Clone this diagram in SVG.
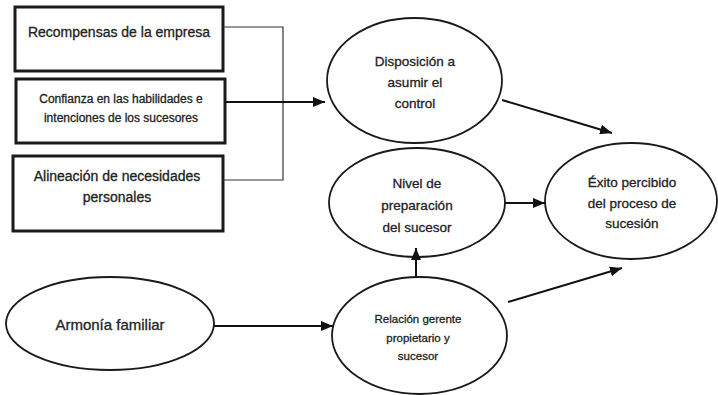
<svg xmlns="http://www.w3.org/2000/svg" width="718" height="395" viewBox="0 0 718 395">
<defs>
<marker id="ah" markerUnits="userSpaceOnUse" markerWidth="12" markerHeight="10" refX="12" refY="5" orient="auto">
<path d="M0,0 L12,5 L0,10 Z" fill="#111"/>
</marker>
</defs>
<style>
.box{fill:#fff;stroke:#1a1a1a;stroke-width:3}
.ell{fill:#fff;stroke:#1a1a1a;stroke-width:1.8}
.t{font-family:"Liberation Sans",Arial,sans-serif;fill:#222;stroke:#222;stroke-width:0.3;text-anchor:middle}
.thin{stroke:#333;stroke-width:1.2;fill:none}
.arr{stroke:#111;stroke-width:2;fill:none;marker-end:url(#ah)}
</style>
<rect width="718" height="395" fill="#fff"/>
<g id="recompensas">
<rect class="box" x="15" y="7" width="208" height="64"/>
<text class="t" x="119" y="37" font-size="14">Recompensas de la empresa</text>
</g>
<g id="confianza">
<rect class="box" x="16" y="79" width="209" height="64"/>
<text class="t" x="121" y="103" font-size="12">Confianza en las habilidades e</text>
<text class="t" x="121" y="122" font-size="12">intenciones de los sucesores</text>
</g>
<g id="alineacion">
<rect class="box" x="13" y="156" width="210" height="75"/>
<text class="t" x="117" y="181" font-size="14">Alineación de necesidades</text>
<text class="t" x="117" y="202" font-size="14">personales</text>
</g>
<g id="disposicion">
<ellipse class="ell" cx="414.5" cy="80.5" rx="87.5" ry="62.5"/>
<text class="t" x="415" y="66" font-size="13.5">Disposición a</text>
<text class="t" x="415" y="87" font-size="13.5">asumir el</text>
<text class="t" x="415" y="108" font-size="13.5">control</text>
</g>
<g id="nivel">
<ellipse class="ell" cx="417" cy="202.5" rx="88" ry="54.5"/>
<text class="t" x="417" y="188" font-size="13.5">Nivel de</text>
<text class="t" x="417" y="210" font-size="13.5">preparación</text>
<text class="t" x="417" y="232" font-size="13.5">del sucesor</text>
</g>
<g id="exito">
<ellipse class="ell" cx="631" cy="201" rx="86" ry="58"/>
<text class="t" x="632" y="187" font-size="13.5">Éxito percibido</text>
<text class="t" x="632" y="208" font-size="13.5">del proceso de</text>
<text class="t" x="632" y="228" font-size="13.5">sucesión</text>
</g>
<g id="armonia">
<ellipse class="ell" cx="110" cy="323.5" rx="104" ry="46.5"/>
<text class="t" x="110" y="330" font-size="15">Armonía familiar</text>
</g>
<g id="relacion">
<ellipse class="ell" cx="419.5" cy="335.5" rx="87.5" ry="58.5"/>
<text class="t" x="418" y="323" font-size="11.5">Relación gerente</text>
<text class="t" x="418" y="342" font-size="11.5">propietario y</text>
<text class="t" x="418" y="360" font-size="11.5">sucesor</text>
</g>
<g id="connectors">
<polyline class="thin" points="223,27 283,27 283,180 223,180"/>
<line class="arr" x1="225" y1="102" x2="325" y2="102"/>
<line class="arr" x1="502" y1="100" x2="612" y2="133"/>
<line class="arr" x1="505" y1="203" x2="545" y2="203"/>
<line class="arr" x1="214" y1="326" x2="333" y2="326"/>
<line class="arr" x1="416" y1="277" x2="416" y2="248"/>
<line class="arr" x1="508" y1="302" x2="622" y2="268"/>
</g>
</svg>
